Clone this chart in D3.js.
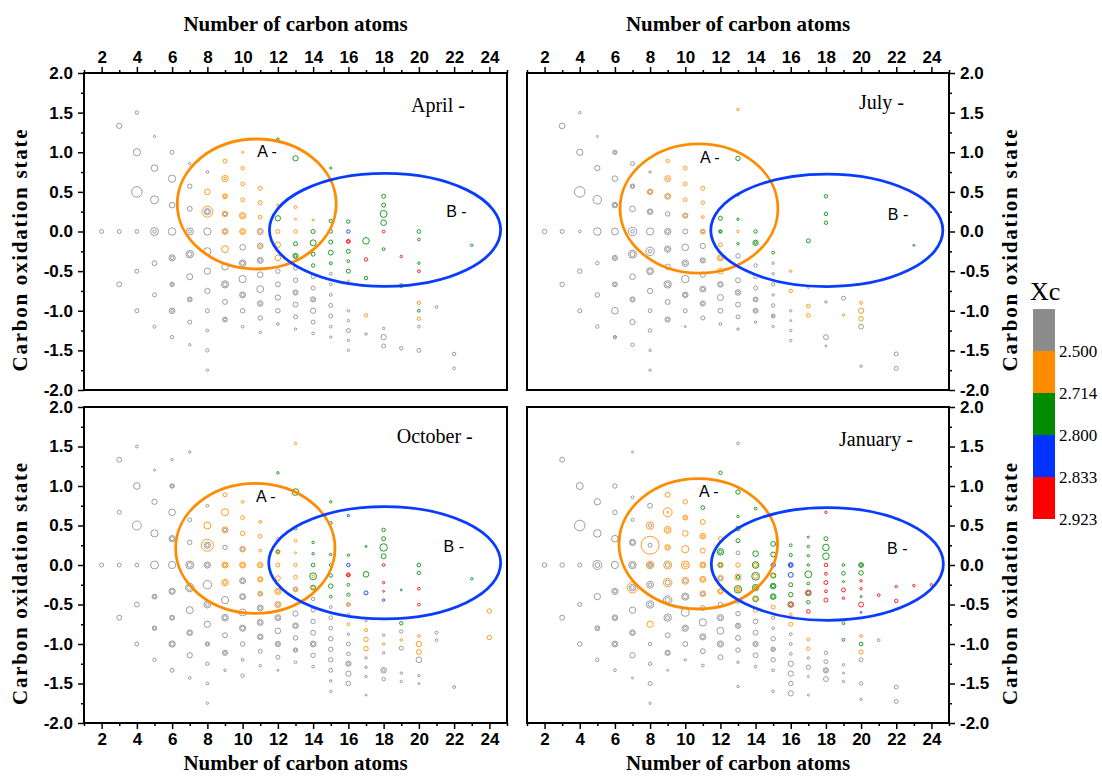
<!DOCTYPE html>
<html><head><meta charset="utf-8">
<script src="https://cdn.jsdelivr.net/npm/d3@7"></script>
<style>
html,body{margin:0;padding:0;background:#fff;}
svg{display:block;}
</style></head>
<body>
<svg id="chart" width="1102" height="778"></svg>
<script>
// ---------------- DATA ----------------
const months = ["April", "July", "October", "January"];
const xTicks = [2,4,6,8,10,12,14,16,18,20,22,24];
const xMinorTicks = [1,3,5,7,9,11,13,15,17,19,21,23,25];
const yTicks = [-2,-1.5,-1,-0.5,0,0.5,1,1.5,2];
const yMinorTicks = [-1.75,-1.25,-0.75,-0.25,0.25,0.75,1.25,1.75];
const xcLabels = ["2.500","2.714","2.800","2.833","2.923"];
const xcColors = ["#8c8c8c","#ff8c00","#008c00","#0033ff","#ff0000"];
const xTitle = "Number of carbon atoms";
const yTitle = "Carbon oxidation state";
const legendTitle = "Xc";

// points: [carbon number, carbon oxidation state, relative intensity, Xc class]
const aprilPts = [
[2,0,4,0],
[3,1.333,7,0],[3,0,4,0],[3,-0.667,6,0],
[4,1.5,3,0],[4,1,13,0],[4,0.5,28,0],[4,0,3.5,0],[4,-0.5,4,0],[4,-1,4,0],
[5,1.2,1.2,0],[5,0.8,11,0],[5,0.4,16,0],[5,0,16,0],[5,0,3,0],[5,-0.4,6,0],[5,-0.8,4,0],[5,-1.2,2.5,0],
[6,1,4,0],[6,0.667,13,0],[6,0.333,8,0],[6,0,14,0],[6,-0.333,10,0],[6,-0.333,3,0],[6,-0.667,5,0],[6,-0.667,1.5,0],[6,-1,8,0],[6,-1,2,0],[6,-1.333,3,0],
[7,0.857,1.5,0],[7,0.571,5,0],[7,0.286,6,0],[7,0,13,0],[7,0,3,0],[7,-0.286,14,0],[7,-0.286,5,0],[7,-0.571,9,0],[7,-0.857,6,0],[7,-0.857,2,0],[7,-1.143,4,0],[7,-1.429,1.5,0],
[8,0.75,2,0],[8,0.5,8,1],[8,0.25,30,1],[8,0.25,10,0],[8,0.25,4,0],[8,0,13,0],[8,-0.25,13,0],[8,-0.5,10,0],[8,-0.75,7,0],[8,-1,4,0],[8,-1.25,2,0],[8,-1.5,3,0],[8,-1.75,1.5,0],
[9,0.889,4,1],[9,0.667,10,1],[9,0.667,1.5,1],[9,0.444,6,1],[9,0.444,2,1],[9,0.222,8,1],[9,0.222,3,0],[9,0,9,1],[9,0,3,0],[9,-0.222,12,1],[9,-0.444,11,0],[9,-0.667,13,0],[9,-0.667,5,0],[9,-0.889,6,0],[9,-1.111,6,0],[9,-1.111,2,0],
[10,1,1,1],[10,0.8,3,1],[10,0.6,3.5,1],[10,0.4,3.5,1],[10,0.2,10,1],[10,0.2,3,1],[10,0,9,1],[10,0,3,1],[10,-0.2,8,0],[10,-0.4,11,0],[10,-0.4,4,0],[10,-0.6,13,0],[10,-0.8,9,0],[10,-0.8,3,0],[10,-1,5,0],[10,-1.2,2,0],
[11,0.545,4,1],[11,0.364,4,1],[11,0.182,3.5,1],[11,0,9,0],[11,0,3,1],[11,-0.182,8,0],[11,-0.182,2,1],[11,-0.364,9,0],[11,-0.364,3,0],[11,-0.545,8,0],[11,-0.727,12,0],[11,-0.909,8,0],[11,-0.909,2,0],[11,-1.091,5,0],[11,-1.273,1.5,0],
[12,1.167,1.5,2],[12,0.333,1.5,1],[12,0.167,7,2],[12,0,4,1],[12,-0.167,7,1],[12,-0.333,8,1],[12,-0.5,5,0],[12,-0.667,6,0],[12,-0.833,7,0],[12,-1,5,0],[12,-1.167,2,0],
[13,0.923,7,2],[13,0.308,2,1],[13,0.154,1,1],[13,0,3,1],[13,-0.154,4,2],[13,-0.308,7,2],[13,-0.308,2,2],[13,-0.462,4,0],[13,-0.615,5,0],[13,-0.769,7,0],[13,-0.769,2,0],[13,-0.923,6,0],[13,-1.077,4,0],[13,-1.231,1.5,0],
[14,0.143,1,1],[14,0,4,2],[14,-0.143,9,2],[14,-0.286,4,2],[14,-0.429,3,2],[14,-0.571,4,0],[14,-0.714,4,0],[14,-0.857,7,0],[14,-0.857,2,0],[14,-1,7,0],[14,-1.143,4,0],[14,-1.286,2,0],
[15,0.8,1.2,2],[15,0.133,3,2],[15,0,3,2],[15,-0.133,4,2],[15,-0.267,6,2],[15,-0.4,2,2],[15,-0.533,2,0],[15,-0.667,2,0],[15,-0.8,2,0],[15,-0.933,4,0],[15,-1.067,4,0],[15,-1.2,2,0],[15,-1.333,1.5,0],
[16,0.125,3,2],[16,0,3,3],[16,-0.125,4,4],[16,-0.125,1.5,4],[16,-0.25,4,2],[16,-0.375,2,2],[16,-0.5,4,2],[16,-0.625,1,1],[16,-1,1.5,0],[16,-1.125,1.5,0],[16,-1.25,4,0],[16,-1.375,1.5,0],[16,-1.5,1.5,0],
[17,-0.118,11,2],[17,-0.353,3,4],[17,-0.588,3,2],[17,-1.059,3,1],[17,-1.294,1.5,0],
[18,0.444,4,2],[18,0.333,4,2],[18,0.222,12,2],[18,0.111,8,2],[18,0,2,4],[18,-0.222,2,2],[18,-1.222,1.5,0],[18,-1.333,7,0],[18,-1.444,4,0],
[19,-0.316,1.5,4],[19,-0.684,3.5,2],[19,-1.474,3,0],
[20,0,3.5,2],[20,-0.1,2,2],[20,-0.4,1.5,2],[20,-0.5,2,4],[20,-0.9,3,1],[20,-1,2,2],[20,-1.1,3,1],[20,-1.2,2,0],[20,-1.5,4,0],
[21,-0.952,2,0],
[22,-1.545,3,0],[22,-1.727,2,0],
[23,-0.174,1.5,2]
];

const julyPts = [
[2,0,5,0],
[3,1.333,8,0],[3,0,4,0],[3,-0.667,5,0],
[4,1.5,1.5,0],[4,1,10,0],[4,0.5,28,0],[4,0,2,0],[4,-0.5,5,0],[4,-1,4,0],
[5,1.2,1,0],[5,0.8,7,0],[5,0.4,18,0],[5,0,14,0],[5,-0.4,3,0],[5,-0.8,5,0],[5,-1.2,3,0],
[6,1,5,0],[6,1,1.5,0],[6,0.667,8,0],[6,0.333,8,0],[6,0.333,3,0],[6,0,12,0],[6,-0.333,7,0],[6,-0.333,2,0],[6,-0.667,6,0],[6,-0.667,2,0],[6,-1,11,0],[6,-1.333,3,0],[6,-1.333,1,0],
[7,0.857,4,0],[7,0.571,5,0],[7,0.571,1.5,0],[7,0.286,8,0],[7,0,18,0],[7,0,3,0],[7,-0.286,16,0],[7,-0.286,6,0],[7,-0.571,8,0],[7,-0.857,7,0],[7,-0.857,2,0],[7,-1.143,7,0],[7,-1.429,3,0],
[8,0.75,1.5,0],[8,0.5,8,1],[8,0.5,3,0],[8,0.25,8,0],[8,0.25,3,0],[8,0,13,0],[8,-0.25,18,0],[8,-0.25,3,0],[8,-0.5,12,0],[8,-0.5,5,0],[8,-0.75,7,0],[8,-1,3.5,0],[8,-1.25,3.5,0],[8,-1.5,1.5,0],[8,-1.75,1.5,0],
[9,0.889,3,1],[9,0.667,9,1],[9,0.667,1.5,1],[9,0.444,9,1],[9,0.444,3,0],[9,0.222,5,0],[9,0,10,0],[9,0,3,0],[9,-0.222,10,0],[9,-0.222,3,0],[9,-0.444,7,0],[9,-0.667,14,0],[9,-0.667,5,0],[9,-0.889,6,0],[9,-1.111,7,0],[9,-1.111,2,0],
[10,0.8,3.5,1],[10,0.6,3.5,1],[10,0.4,3.5,1],[10,0.2,7,1],[10,0.2,3,0],[10,0,6,0],[10,-0.2,11,0],[10,-0.4,11,0],[10,-0.4,3,0],[10,-0.6,14,0],[10,-0.8,8,0],[10,-0.8,3,0],[10,-1,4,0],[10,-1.2,1,0],
[11,0.545,4,1],[11,0.364,3,1],[11,0.182,2,1],[11,0,6,1],[11,0,2,0],[11,-0.182,7,0],[11,-0.364,7,0],[11,-0.364,2,0],[11,-0.545,7,0],[11,-0.727,9,0],[11,-0.727,3,0],[11,-0.909,7,0],[11,-0.909,2,0],[11,-1.091,4,0],
[12,0.167,4,2],[12,0,3,2],[12,0,1,2],[12,-0.167,4,1],[12,-0.333,9,1],[12,-0.333,3,1],[12,-0.5,8,1],[12,-0.667,8,0],[12,-0.667,3,0],[12,-0.833,9,0],[12,-1,6,0],[12,-1.167,2,0],
[13,1.538,1.5,1],[13,0.923,5,2],[13,0.462,1.5,2],[13,0.154,1.5,2],[13,0,1.5,1],[13,-0.154,1.5,2],[13,-0.308,5,0],[13,-0.615,6,0],[13,-0.769,8,0],[13,-0.769,2,0],[13,-0.923,6,0],[13,-1.077,4,0],[13,-1.231,1.5,0],
[14,0,3,2],[14,-0.143,7,2],[14,-0.143,1.5,2],[14,-0.429,3,0],[14,-0.571,3.5,0],[14,-0.714,4,0],[14,-0.857,6,0],[14,-0.857,2,0],[14,-1,6,0],[14,-1,2,0],[14,-1.143,1.5,0],
[15,-0.267,2,2],[15,-0.4,1.5,0],[15,-0.533,1.5,0],[15,-0.667,3,0],[15,-0.8,1.5,0],[15,-0.933,3,0],[15,-1.067,4,0],[15,-1.067,1,0],[15,-1.2,1.5,0],
[16,-0.5,1.5,1],[16,-0.75,3,1],[16,-1,1.5,0],[16,-1.125,1,0],[16,-1.25,1.5,0],[16,-1.375,1.5,0],
[17,-0.118,4,2],[17,-0.706,1,0],[17,-0.941,3.5,1],[17,-1.059,3.5,1],
[18,0.444,3,2],[18,0.222,3,2],[18,0.111,3,2],[18,-0.889,1.5,0],[18,-1.333,6,0],[18,-1.444,1,0],
[19,-0.842,4,0],[19,-1.053,1.5,1],
[20,-0.9,2,1],[20,-1,7,1],[20,-1.1,5,1],[20,-1.2,6,0],[20,-1.7,1.5,0],
[22,-1.545,4,0],[22,-1.727,4,0],
[23,-0.174,1,2]
];

const octoberPts = [
[2,0,4,0],
[3,1.333,6,0],[3,0.667,4,0],[3,0,4,0],[3,-0.667,6,0],
[4,1.5,2,0],[4,1,11,0],[4,0.5,20,0],[4,0,3.5,0],[4,-0.5,6,0],[4,-1,4,0],
[5,1.2,1,0],[5,0.8,7,0],[5,0.4,13,0],[5,0,16,0],[5,-0.4,6,0],[5,-0.4,2,0],[5,-0.8,5,0],[5,-0.8,2,0],[5,-1.2,3,0],
[6,1.333,1.5,0],[6,1,5,0],[6,1,2,0],[6,0.667,11,0],[6,0.333,10,0],[6,0.333,4,0],[6,0,13,0],[6,-0.333,10,0],[6,-0.333,4,0],[6,-0.667,6,0],[6,-0.667,3,0],[6,-1,10,0],[6,-1,4,0],[6,-1.333,4,0],
[7,1.429,1.5,0],[7,0.571,4,0],[7,0.286,5,0],[7,0,16,0],[7,0,6,0],[7,-0.286,18,0],[7,-0.286,8,0],[7,-0.571,12,0],[7,-0.857,8,0],[7,-0.857,3,0],[7,-1.143,7,0],[7,-1.429,2,0],
[8,0.75,2,0],[8,0.5,12,1],[8,0.25,36,1],[8,0.25,10,0],[8,0.25,3,0],[8,0,10,0],[8,0,3,0],[8,-0.25,18,0],[8,-0.5,12,0],[8,-0.5,3,0],[8,-0.75,10,0],[8,-1,5,0],[8,-1,1.5,0],[8,-1.25,3,0],[8,-1.5,2,0],[8,-1.75,1.5,0],
[9,0.889,4,1],[9,0.667,13,1],[9,0.444,9,1],[9,0.444,3,0],[9,0.222,5,0],[9,0,9,1],[9,0,3,1],[9,-0.222,11,1],[9,-0.222,3,1],[9,-0.444,13,0],[9,-0.667,11,0],[9,-0.667,4,0],[9,-0.889,6,0],[9,-1.111,7,0],[9,-1.111,2,0],[9,-1.333,1.5,0],
[10,0.8,2,1],[10,0.6,3.5,1],[10,0.4,5,1],[10,0.2,8,1],[10,0.2,3,0],[10,0,9,1],[10,0,3,1],[10,-0.2,9,0],[10,-0.2,3,0],[10,-0.4,9,0],[10,-0.4,4,0],[10,-0.6,12,0],[10,-0.8,10,0],[10,-0.8,4,0],[10,-1,5,0],[10,-1.2,2,0],[10,-1.4,3,0],
[11,0.545,2,1],[11,0.364,3.5,1],[11,0.182,2,1],[11,0,8,1],[11,0,2,1],[11,-0.182,7,1],[11,-0.182,3,1],[11,-0.364,6,1],[11,-0.364,2,0],[11,-0.545,9,0],[11,-0.545,3,0],[11,-0.727,9,0],[11,-0.727,3,0],[11,-0.909,8,0],[11,-0.909,3,0],[11,-1.091,4,0],[11,-1.273,1.5,0],
[12,1.167,1.5,2],[12,0.333,2,1],[12,0.167,5,1],[12,0.167,2,2],[12,0,4,1],[12,-0.167,6,1],[12,-0.333,10,1],[12,-0.333,3,1],[12,-0.5,9,1],[12,-0.5,3,0],[12,-0.667,9,0],[12,-0.667,3,0],[12,-0.833,8,0],[12,-1,7,0],[12,-1,2,0],[12,-1.167,4,0],[12,-1.333,1,0],
[13,1.538,1.5,1],[13,0.923,11,2],[13,0.462,2,2],[13,0.308,2,1],[13,0.154,1,1],[13,0,3,1],[13,-0.154,3.5,1],[13,-0.308,6,1],[13,-0.308,2,0],[13,-0.615,7,0],[13,-0.769,8,0],[13,-0.769,3,0],[13,-0.923,5,0],[13,-1.077,5,0],[13,-1.077,1.5,0],[13,-1.231,2,0],
[14,0.286,1.5,2],[14,0.143,1.5,2],[14,0,3.5,2],[14,-0.143,12,2],[14,-0.143,2,1],[14,-0.286,6,2],[14,-0.286,2,1],[14,-0.429,3,0],[14,-0.571,4,0],[14,-0.714,5,0],[14,-0.857,6,0],[14,-1,9,0],[14,-1,3,0],[14,-1.143,5,0],[14,-1.286,2,0],
[15,0.8,1.5,2],[15,0.533,2,2],[15,0.133,1.5,2],[15,0,2,2],[15,-0.133,3,2],[15,-0.267,5,2],[15,-0.4,2,2],[15,-0.533,2,0],[15,-0.667,3.5,0],[15,-0.8,3.5,0],[15,-0.933,5,0],[15,-1.067,5,0],[15,-1.2,5,0],[15,-1.333,4,0],[15,-1.467,1.5,0],[15,-1.6,1.5,0],
[16,0.625,1.5,3],[16,0.125,1.5,2],[16,0,3,3],[16,-0.125,4,4],[16,-0.125,1.5,4],[16,-0.25,2,2],[16,-0.375,2.5,2],[16,-0.5,4,1],[16,-0.5,1.5,0],[16,-0.625,1.5,0],[16,-0.75,2,1],[16,-0.875,1.5,0],[16,-1,4,0],[16,-1.125,3,0],[16,-1.25,7,0],[16,-1.25,2,0],[16,-1.375,7,0],[16,-1.5,5,0],
[17,0.235,1,2],[17,-0.118,8,2],[17,-0.353,4,3],[17,-0.706,1.5,0],[17,-0.824,2.5,1],[17,-0.941,5,1],[17,-1.059,5,1],[17,-1.176,1.5,0],[17,-1.294,1.5,0],[17,-1.412,1.5,0],[17,-1.647,1,0],
[18,0.444,3,2],[18,0.333,4,2],[18,0.222,14,2],[18,0.111,6,2],[18,0,2,4],[18,-0.222,1.5,4],[18,-0.333,0.8,4],[18,-0.444,1.5,3],[18,-0.889,1.5,0],[18,-1,1.5,1],[18,-1.111,1.5,0],[18,-1.333,8,0],[18,-1.333,2,0],[18,-1.444,3,0],
[19,-0.316,0.8,2],[19,-0.737,3,2],[19,-0.842,3,0],[19,-0.947,1.5,1],[19,-1.053,4,0],[19,-1.368,1.5,0],[19,-1.474,1.5,0],
[20,0,3.5,2],[20,-0.1,3,2],[20,-0.3,2,4],[20,-0.5,2,4],[20,-0.9,2,1],[20,-1,7,1],[20,-1.1,6,1],[20,-1.2,8,0],[20,-1.4,1.5,0],[20,-1.5,1,0],
[21,-0.857,2.5,0],[21,-0.952,2,0],
[22,-1.545,2,0],
[23,-0.174,1.5,2],
[24,-0.583,5,1],[24,-0.917,5,1]
];

const januaryPts = [
[2,0,5,0],
[3,1.333,6,0],[3,0,5,0],[3,-0.667,6,0],
[4,1,12,0],[4,0.5,28,0],[4,0,4,0],[4,-0.5,4,0],[4,-1,5,0],
[5,0.8,10,0],[5,0.4,14,0],[5,0,20,0],[5,0,6,0],[5,-0.4,10,0],[5,-0.8,6,0],[5,-0.8,2,0],[5,-1.2,3,0],
[6,1,5,0],[6,0.667,5,0],[6,0.333,11,0],[6,0,13,0],[6,-0.333,10,0],[6,-0.333,3,0],[6,-0.667,8,0],[6,-0.667,3,0],[6,-1,9,0],[6,-1,3,0],[6,-1.333,2,0],
[7,1.429,1,0],[7,0.857,2,0],[7,0.571,2.5,0],[7,0.286,10,0],[7,0.286,4,0],[7,0,14,0],[7,0,5,0],[7,-0.286,28,1],[7,-0.286,11,0],[7,-0.286,3,0],[7,-0.571,10,0],[7,-0.857,8,0],[7,-0.857,3,0],[7,-1.143,7,0],[7,-1.429,1,0],
[8,0.75,6,0],[8,0.5,14,1],[8,0.5,3,0],[8,0.25,80,1],[8,0.25,4,0],[8,0,14,1],[8,0,6,0],[8,0,2,0],[8,-0.25,12,0],[8,-0.25,3,0],[8,-0.5,14,0],[8,-0.5,4,0],[8,-0.75,10,1],[8,-1,3,0],[8,-1.25,3,0],[8,-1.5,4,0],[8,-1.75,1.5,0],
[9,0.889,6,1],[9,0.667,20,1],[9,0.667,1,1],[9,0.444,12,1],[9,0.444,3,1],[9,0.222,8,1],[9,0.222,2,1],[9,0,16,1],[9,0,5,0],[9,-0.222,18,1],[9,-0.222,6,0],[9,-0.444,18,0],[9,-0.444,6,0],[9,-0.667,14,0],[9,-0.667,4,0],[9,-0.889,6,0],[9,-1.111,7,0],[9,-1.111,3,0],[9,-1.333,1,0],
[10,0.8,5,1],[10,0.6,6,1],[10,0.6,1.5,1],[10,0.4,8,1],[10,0.2,13,1],[10,0,16,1],[10,0,4,1],[10,-0.2,12,1],[10,-0.2,4,0],[10,-0.4,13,0],[10,-0.4,5,0],[10,-0.6,16,0],[10,-0.8,10,0],[10,-0.8,3,0],[10,-1,6,0],[10,-1.2,1.5,0],
[11,0.727,3.5,2],[11,0.545,6,1],[11,0.364,8,1],[11,0.364,2,1],[11,0.182,6,1],[11,0,9,1],[11,0,3,1],[11,-0.182,9,1],[11,-0.182,3,1],[11,-0.364,8,1],[11,-0.364,3,0],[11,-0.545,6,0],[11,-0.727,13,0],[11,-0.909,10,0],[11,-0.909,3,0],[11,-1.091,6,0],[11,-1.273,2,0],
[12,1.167,3,2],[12,0.333,4,1],[12,0.167,11,2],[12,0.167,3,2],[12,0,8,1],[12,0,3,2],[12,-0.167,8,1],[12,-0.167,3,0],[12,-0.333,8,1],[12,-0.333,3,1],[12,-0.5,5,0],[12,-0.667,10,0],[12,-0.667,3,0],[12,-0.833,12,0],[12,-1,10,0],[12,-1,3,0],[12,-1.167,6,0],
[13,1.538,2,0],[13,0.923,5,2],[13,0.615,1.5,2],[13,0.462,5,2],[13,0.308,4,2],[13,0.154,3.5,0],[13,0,5,1],[13,-0.154,10,1],[13,-0.154,3,2],[13,-0.308,14,2],[13,-0.308,5,1],[13,-0.308,2,1],[13,-0.462,3,0],[13,-0.615,5,0],[13,-0.769,7,0],[13,-0.769,2,0],[13,-0.923,6,0],[13,-1.077,5,0],[13,-1.231,1.5,0],[13,-1.538,1.5,0],
[14,0.714,2,2],[14,0.143,8,2],[14,0,11,2],[14,0,4,1],[14,-0.143,15,2],[14,-0.143,5,1],[14,-0.286,10,2],[14,-0.286,3,2],[14,-0.429,8,2],[14,-0.429,3,1],[14,-0.571,5,1],[14,-0.714,5,0],[14,-0.857,6,0],[14,-1,7,0],[14,-1,2,0],[14,-1.143,6,0],[14,-1.286,2,0],
[15,0.267,6,2],[15,0.133,6,2],[15,0,5,3],[15,-0.133,7,2],[15,-0.133,3,1],[15,-0.267,8,2],[15,-0.267,3,2],[15,-0.4,8,2],[15,-0.4,3,2],[15,-0.533,4,1],[15,-0.667,2.5,0],[15,-0.8,2,0],[15,-0.933,5,0],[15,-1.067,5,0],[15,-1.067,1.5,0],[15,-1.2,5,0],[15,-1.333,2,0],[15,-1.6,2,0],
[16,0.25,2,2],[16,0.125,2.5,2],[16,0,6,3],[16,0,2,3],[16,-0.125,6,3],[16,-0.25,4,2],[16,-0.375,5,2],[16,-0.5,8,4],[16,-0.5,3,2],[16,-0.625,2,1],[16,-0.75,4,1],[16,-0.875,2,0],[16,-1,2,0],[16,-1.125,2,0],[16,-1.25,7,0],[16,-1.375,7,0],[16,-1.5,5,0],[16,-1.625,7,0],
[17,0.353,1,2],[17,0.235,1.5,2],[17,0.118,1.5,2],[17,0,1.5,2],[17,-0.118,12,2],[17,-0.235,2,2],[17,-0.353,8,4],[17,-0.353,3,2],[17,-0.471,3,2],[17,-0.588,3.5,4],[17,-0.941,2,1],[17,-1.059,3,1],[17,-1.176,1.5,0],[17,-1.294,4.5,0],[17,-1.412,1,0],[17,-1.647,1,0],
[18,0.667,1.5,4],[18,0.333,4,2],[18,0.222,11,2],[18,0.111,11,2],[18,0,3,4],[18,-0.111,2,4],[18,-0.222,4,4],[18,-0.333,2,4],[18,-0.444,4,4],[18,-1.111,3,0],[18,-1.222,4,0],[18,-1.333,7,0],[18,-1.333,2,0],[18,-1.444,6,0],
[19,0,2,2],[19,-0.105,3.5,2],[19,-0.211,1,2],[19,-0.316,4,4],[19,-0.421,1.5,4],[19,-0.737,2,2],[19,-0.947,2,2],[19,-1.263,1.5,0],[19,-1.368,1,0],[19,-1.474,1.5,0],
[20,0,6,2],[20,0,2,2],[20,-0.1,5,2],[20,-0.2,1.5,4],[20,-0.3,1.5,4],[20,-0.4,1,2],[20,-0.5,6,4],[20,-0.6,0.8,3],[20,-0.9,2,1],[20,-1,3.5,2],[20,-1.1,4.5,1],[20,-1.2,4,0],[20,-1.5,3,0],[20,-1.7,1.5,0],
[21,-0.381,2,4],[21,-0.952,2,0],
[22,-0.273,1.5,4],[22,-0.455,3,4],[22,-1.545,4,0],[22,-1.727,4,0],
[23,-0.261,1.5,4],
[24,-0.25,1.5,4]
];

// ellipses: [centre C, centre OSc, radius in C, radius in OSc]
const ellipseA = [[10.80,0.347,4.51,0.82],[10.78,0.29,4.49,0.816],[10.72,0.211,4.52,0.823],[10.74,0.268,4.51,0.825]];
const ellipseB = [[18.08,0.021,6.56,0.713],[18.05,0.015,6.6,0.71],[18.06,0.028,6.58,0.711],[18.08,0.013,6.6,0.713]];
// region label anchors [C, OSc]
const labelA = [[10.83,0.944],[10.84,0.868],[10.76,0.801],[10.78,0.861]];
const labelB = [[21.55,0.187],[21.52,0.141],[21.40,0.168],[21.48,0.143]];

const allPts = [aprilPts, julyPts, octoberPts, januaryPts];

// ---------------- LAYOUT ----------------
const svg = d3.select("#chart");
svg.append("rect").attr("width",1102).attr("height",778).attr("fill","#fff");

const boxes = [
  {x0:84,  x1:507, y0:73,  y1:390, top:true,  left:true,  tx:327, ty:38.7},
  {x0:527, x1:949, y0:73,  y1:390, top:true,  left:false, tx:332, ty:36},
  {x0:84,  x1:507, y0:407, y1:723, top:false, left:true,  tx:312.7, ty:36.3},
  {x0:527, x1:949, y0:407, y1:723, top:false, left:false, tx:312, ty:38.7}
];

const sansBold = "'Liberation Sans', Arial, sans-serif";
const serif = "'Liberation Serif', 'Times New Roman', serif";
const rScale = d3.scaleSqrt().domain([0,100]).range([0,10]);
const colorScale = d3.scaleOrdinal().domain([0,1,2,3,4]).range(xcColors);

boxes.forEach((b, i) => {
  const x = d3.scaleLinear().domain([1,25]).range([b.x0,b.x1]);
  const y = d3.scaleLinear().domain([-2,2]).range([b.y1,b.y0]);
  const g = svg.append("g");

  // points (draw larger first)
  const pts = allPts[i].slice().sort((a,c)=>c[2]-a[2]);
  g.append("g").selectAll("circle").data(pts).join("circle")
    .attr("cx", d=>x(d[0])).attr("cy", d=>y(d[1]))
    .attr("r", d=>rScale(d[2]))
    .attr("fill","none")
    .attr("stroke", d=>colorScale(d[3]))
    .attr("stroke-opacity", 0.85)
    .attr("stroke-width", 1);

  // ellipses
  const eA = ellipseA[i], eB = ellipseB[i];
  g.append("ellipse")
    .attr("cx", x(eA[0])).attr("cy", y(eA[1]))
    .attr("rx", x(eA[0]+eA[2])-x(eA[0])).attr("ry", y(eA[1]-eA[3])-y(eA[1]))
    .attr("fill","none").attr("stroke","#ff8c00").attr("stroke-width",2.8);
  g.append("ellipse")
    .attr("cx", x(eB[0])).attr("cy", y(eB[1]))
    .attr("rx", x(eB[0]+eB[2])-x(eB[0])).attr("ry", y(eB[1]-eB[3])-y(eB[1]))
    .attr("fill","none").attr("stroke","#0a3cff").attr("stroke-width",2.8);

  g.append("text").attr("x", x(labelA[i][0])).attr("y", y(labelA[i][1]))
    .attr("font-family", sansBold).attr("font-size",16).text("A -");
  g.append("text").attr("x", x(labelB[i][0])).attr("y", y(labelB[i][1]))
    .attr("font-family", sansBold).attr("font-size",16).text("B -");

  // month title
  g.append("text").attr("x", b.x0 + b.tx).attr("y", b.y0 + b.ty)
    .attr("font-family", serif).attr("font-size",20).text(months[i] + " -");

  // frame
  g.append("rect").attr("x",b.x0).attr("y",b.y0).attr("width",b.x1-b.x0).attr("height",b.y1-b.y0)
    .attr("fill","none").attr("stroke","#000").attr("stroke-width",2);

  // x axes
  const xAxisMaker = b.top ? d3.axisTop : d3.axisBottom;
  const xPos = b.top ? b.y0 : b.y1;
  const gx = g.append("g").attr("transform",`translate(0,${xPos})`)
    .call(xAxisMaker(x).tickValues(xTicks).tickSize(6).tickPadding(4).tickFormat(d3.format("d")));
  const gxm = g.append("g").attr("transform",`translate(0,${xPos})`)
    .call(xAxisMaker(x).tickValues(xMinorTicks).tickSize(3).tickFormat(""));
  // y axes
  const yAxisMaker = b.left ? d3.axisLeft : d3.axisRight;
  const yPos = b.left ? b.x0 : b.x1;
  const gy = g.append("g").attr("transform",`translate(${yPos},0)`)
    .call(yAxisMaker(y).tickValues(yTicks).tickSize(6).tickPadding(5).tickFormat(d=>d.toFixed(1)));
  const gym = g.append("g").attr("transform",`translate(${yPos},0)`)
    .call(yAxisMaker(y).tickValues(yMinorTicks).tickSize(3).tickFormat(""));

  [gx,gxm,gy,gym].forEach(a=>{
    a.select(".domain").remove();
    a.selectAll(".tick line").attr("stroke","#000").attr("stroke-width",1.5);
    a.selectAll(".tick text").attr("font-family",sansBold).attr("font-weight","bold")
      .attr("font-size",17).attr("fill","#000");
  });

  // axis titles
  const cx = (b.x0+b.x1)/2;
  if (b.top) {
    g.append("text").attr("x",cx).attr("y",31).attr("text-anchor","middle")
      .attr("font-family",serif).attr("font-weight","bold").attr("font-size",21).text(xTitle);
  } else {
    g.append("text").attr("x",cx).attr("y",770).attr("text-anchor","middle")
      .attr("font-family",serif).attr("font-weight","bold").attr("font-size",21).text(xTitle);
  }
  const cy = (b.y0+b.y1)/2 + 19;
  const tx = b.left ? 27 : 1017;
  g.append("text").attr("transform",`translate(${tx},${cy}) rotate(-90)`)
    .attr("text-anchor","middle").attr("font-family",serif).attr("font-weight","bold")
    .attr("font-size",21).attr("textLength",242).attr("lengthAdjust","spacing").text(yTitle);
});

// ---------------- LEGEND ----------------
const legTop = 309, legStep = 42, legX = 1033, legW = 22;
const leg = svg.append("g");
leg.append("text").attr("x",1030).attr("y",300).attr("font-family",serif).attr("font-size",26).text(legendTitle);
const legendScale = d3.scaleLinear().domain([0,5]).range([legTop, legTop+5*legStep]);
leg.selectAll("rect").data(xcColors).join("rect")
  .attr("x",legX).attr("width",legW)
  .attr("y",(d,i)=>legendScale(i)).attr("height",legendScale(1)-legendScale(0))
  .attr("fill",d=>d);
leg.selectAll("text.lab").data(xcLabels).join("text").attr("class","lab")
  .attr("x",legX+legW+4).attr("y",(d,i)=>legendScale(i+1))
  .attr("dy","0.35em").attr("font-family",serif).attr("font-size",17).text(d=>d);
</script>
</body></html>
